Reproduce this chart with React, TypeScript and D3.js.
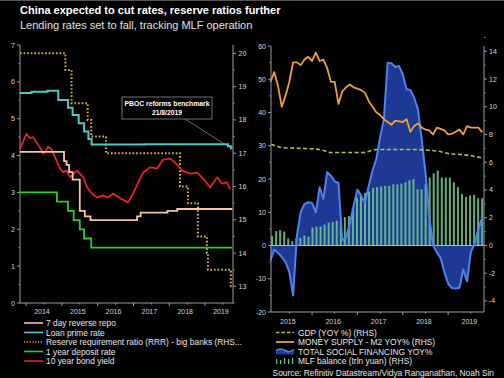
import React from "react";
import * as d3 from "d3";

const W = 504;
const H = 378;

// ---------- Left panel data ----------
const repoDates = [2013.83, 2015.06, 2015.13, 2015.2, 2015.3, 2015.5, 2015.64, 2015.8, 2017.1, 2017.2, 2017.95, 2018.22, 2019.76];
const repoVals = [4.1, 3.85, 3.75, 3.55, 3.35, 2.5, 2.35, 2.25, 2.35, 2.45, 2.5, 2.55, 2.55];

const lprDates = [2013.83, 2014.15, 2014.6, 2014.9, 2015.17, 2015.3, 2015.47, 2015.62, 2015.74, 2015.83, 2017.3, 2019.64, 2019.72, 2019.76];
const lprVals = [5.7, 5.73, 5.76, 5.51, 5.3, 5.1, 4.88, 4.65, 4.45, 4.3, 4.31, 4.25, 4.2, 4.2];

const rrrDates = [2013.83, 2015.1, 2015.27, 2015.72, 2015.82, 2016.23, 2018.3, 2018.52, 2018.8, 2019.05, 2019.08, 2019.72, 2019.76];
const rrrVals = [20, 19.5, 18.5, 18.0, 17.5, 17.0, 16.0, 15.5, 14.5, 14.0, 13.5, 13.0, 13.0];

const depDates = [2013.83, 2014.86, 2015.17, 2015.33, 2015.5, 2015.62, 2015.82, 2019.76];
const depVals = [3.0, 2.75, 2.5, 2.25, 2.0, 1.75, 1.5, 1.5];

const bondDates = [2013.83, 2013.97, 2014.01, 2014.1, 2014.2, 2014.29, 2014.38, 2014.48, 2014.57, 2014.61, 2014.71, 2014.75, 2014.85, 2014.95, 2015.04, 2015.13, 2015.23, 2015.32, 2015.42, 2015.51, 2015.6, 2015.7, 2015.84, 2015.98, 2016.15, 2016.29, 2016.43, 2016.63, 2016.85, 2016.99, 2017.1, 2017.27, 2017.46, 2017.66, 2017.83, 2018.02, 2018.16, 2018.36, 2018.58, 2018.78, 2018.94, 2019.14, 2019.34, 2019.47, 2019.61, 2019.7];
const bondVals = [4.18, 4.5, 4.59, 4.48, 4.5, 4.36, 4.23, 4.05, 4.14, 4.24, 4.18, 4.09, 3.86, 3.64, 3.55, 3.59, 3.41, 3.5, 3.59, 3.5, 3.41, 3.14, 2.97, 2.86, 2.92, 2.86, 2.97, 2.84, 2.73, 2.97, 3.2, 3.54, 3.68, 3.65, 3.89, 3.92, 3.81, 3.59, 3.51, 3.54, 3.38, 3.14, 3.41, 3.24, 3.27, 3.08];

const leftTicks = [0, 1, 2, 3, 4, 5, 6, 7];
const leftRightTicks = [13, 14, 15, 16, 17, 18, 19, 20];
const leftYears = [2014, 2015, 2016, 2017, 2018, 2019];

// ---------- Right panel data ----------
const monthlyStart = 2015; // Jan 2015, month-end stamps
const m2Vals = [11.8, 12.5, 11.5, 10.0, 10.8, 11.8, 13.2, 13.2, 13.0, 13.4, 13.6, 13.3, 13.9, 13.3, 13.4, 12.8, 11.8, 11.8, 10.2, 11.1, 11.4, 11.6, 11.4, 11.3, 11.2, 11.0, 10.4, 10.0, 9.6, 9.4, 9.1, 8.9, 8.7, 9.0, 8.95, 8.9, 9.1, 8.2, 8.6, 8.8, 8.5, 8.35, 8.3, 8.0, 8.5, 8.4, 8.3, 8.0, 8.05, 8.2, 8.35, 8.0, 8.6, 8.5, 8.5, 8.5, 8.15];
const tsfVals = [-4.5, -1.3, -2.2, -3.5, -5.0, -8.0, -15.0, 3.0, 10.0, 12.5, 13.0, 12.8, 10.0, 17.5, 14.0, 22.0, 21.0, 19.3, 18.8, 1.5, 2.5, 6.5, 12.0, 16.8, 15.0, 12.8, 18.0, 22.5, 26.0, 32.5, 38.0, 55.0, 54.8, 53.7, 54.0, 51.5, 47.0, 46.8, 44.5, 41.0, 32.0, 22.0, 9.0, 0.0, -2.0, -3.8, -8.0, -11.5, -12.8, -12.9, -12.7, -7.2, -10.8, -2.0, 0.5, 5.0, 8.4];

const gdpDates = [2015.1, 2015.36, 2015.74, 2016.18, 2016.4, 2017.13, 2017.43, 2018.16, 2018.76, 2019.05, 2019.27, 2019.71, 2019.77];
const gdpVals = [7.3, 7.05, 7.0, 6.92, 6.7, 6.7, 6.92, 6.92, 6.8, 6.6, 6.56, 6.34, 6.3];

const mlfStart = 2015.12;
const mlfEnd = 2019.75;
const mlfVals = [0.67, 1.03, 1.1, 1.0, 0.5, 0.3, 0.5, 0.55, 0.72, 0.63, 1.27, 1.35, 1.37, 1.5, 1.65, 1.7, 1.78, 1.7, 2.05, 2.12, 2.75, 3.45, 3.6, 3.8, 3.9, 4.15, 4.2, 4.25, 4.3, 4.3, 4.4, 4.4, 4.45, 4.55, 4.7, 4.8, 4.05, 4.05, 4.4, 4.9, 5.2, 5.4, 4.9, 4.9, 4.9, 4.55, 4.2, 3.7, 3.5, 3.6, 3.65, 3.4, 3.4];

const rightLeftTicks = [-20, -10, 0, 10, 20, 30, 40, 50, 60];
const rightRightTicks = [-4, -2, 0, 2, 4, 6, 8, 10, 12, 14];
const rightYears = [2015, 2016, 2017, 2018, 2019];

const leftLegend = [
  "7 day reverse repo",
  "Loan prime rate",
  "Reserve requirement ratio (RRR) - big banks (RHS...",
  "1 year deposit rate",
  "10 year bond yield",
];
const rightLegend = [
  "GDP (YOY %) (RHS)",
  "MONEY SUPPLY - M2 YOY% (RHS)",
  "TOTAL SOCIAL FINANCING YOY%",
  "MLF balance (trln yuan) (RHS)",
];

const C = {
  repo: "#f4c6a4",
  lpr: "#4fc8c8",
  rrr: "#d8b452",
  dep: "#27d02c",
  bond: "#e8202a",
  gdp: "#a8c43c",
  m2: "#f0a030",
  tsfLine: "#4f80f0",
  tsfFill: "#203c9c",
  mlf: "#6cc68c",
  axis: "#9a9a9a",
  text: "#d6d6d6",
};

const FONT = "Arial, 'Liberation Sans', Helvetica, sans-serif";

export default function App() {
  const xL = d3.scaleLinear().domain([2013.83, 2019.78]).range([20, 233]);
  const yL = d3.scaleLinear().domain([0, 7]).range([303, 45]);
  const yLR = d3.scaleLinear().domain([12.5, 20.25]).range([303, 45]);

  const xR = d3.scaleLinear().domain([2015.096, 2019.79]).range([271, 484]);
  const yRL = d3.scaleLinear().domain([-20, 60]).range([312, 46]);
  const yRR = d3.scaleLinear().domain([-4.8, 14.38]).range([312, 46]);

  const stepLine = (dates: number[], vals: number[], y: d3.ScaleLinear<number, number>) =>
    d3
      .line<number>()
      .x((_, i) => xL(dates[i]))
      .y((v) => y(v))
      .curve(d3.curveStepAfter)(vals) || "";

  const bondPath =
    d3
      .line<number>()
      .x((_, i) => xL(bondDates[i]))
      .y((v) => yL(v))(bondVals) || "";

  const mDate = (i: number) => monthlyStart + (i + 1) / 12;

  const m2Path =
    d3
      .line<number>()
      .x((_, i) => xR(mDate(i)))
      .y((v) => yRR(v))(m2Vals) || "";

  const tsfArea =
    d3
      .area<number>()
      .x((_, i) => xR(mDate(i)))
      .y0(yRL(0))
      .y1((v) => yRL(v))(tsfVals) || "";
  const tsfLine =
    d3
      .line<number>()
      .x((_, i) => xR(mDate(i)))
      .y((v) => yRL(v))(tsfVals) || "";

  const gdpPath =
    d3
      .line<number>()
      .x((_, i) => xR(gdpDates[i]))
      .y((v) => yRR(v))
      .curve(d3.curveMonotoneX)(gdpVals) || "";

  const mlfX = d3.scaleLinear().domain([0, mlfVals.length - 1]).range([xR(mlfStart), xR(mlfEnd)]);

  const fs = 7;

  // annotation target
  const annX = xL(2019.64);
  const annY = yL(4.25);

  return (
    <svg
      width={W}
      height={H}
      viewBox={`0 0 ${W} ${H}`}
      style={{ position: "absolute", left: 0, top: 0, background: "#000", fontFamily: FONT }}
    >
      <rect x={0} y={0} width={W} height={H} fill="#000" />
      <line x1={0} x2={W} y1={0.5} y2={0.5} stroke="#555" />

      {/* Titles */}
      <text x={20} y={14} fill="#fff" fontSize={11} fontWeight="bold">
        China expected to cut rates, reserve ratios further
      </text>
      <text x={20} y={28.5} fill="#e2e2e2" fontSize={11}>
        Lending rates set to fall, tracking MLF operation
      </text>

      {/* ---------- LEFT PANEL ---------- */}
      <g>
        {/* axes */}
        <line x1={20} x2={20} y1={45} y2={303} stroke={C.axis} />
        <line x1={233} x2={233} y1={45} y2={303} stroke={C.axis} />
        <line x1={20} x2={233} y1={303} y2={303} stroke={C.axis} />
        {leftTicks.map((t) => (
          <g key={"lt" + t}>
            <line x1={17} x2={20} y1={yL(t)} y2={yL(t)} stroke={C.axis} />
            <text x={15} y={yL(t) + 2.5} fill={C.text} fontSize={fs} textAnchor="end">
              {t}
            </text>
          </g>
        ))}
        {leftTicks.slice(0, -1).map((t) => (
          <line key={"ltm" + t} x1={18.5} x2={20} y1={yL(t + 0.5)} y2={yL(t + 0.5)} stroke={C.axis} />
        ))}
        {leftRightTicks.map((t) => (
          <g key={"lrt" + t}>
            <line x1={233} x2={236} y1={yLR(t)} y2={yLR(t)} stroke={C.axis} />
            <text x={238.5} y={yLR(t) + 2.5} fill={C.text} fontSize={fs}>
              {t}
            </text>
          </g>
        ))}
        {[12.5, 13.5, 14.5, 15.5, 16.5, 17.5, 18.5, 19.5].map((t) => (
          <line key={"lrtm" + t} x1={233} x2={234.5} y1={yLR(t)} y2={yLR(t)} stroke={C.axis} />
        ))}
        {leftYears.map((yr) => (
          <g key={"ly" + yr}>
            <line x1={xL(yr)} x2={xL(yr)} y1={303} y2={306} stroke={C.axis} />
            <line x1={xL(yr + 0.5)} x2={xL(yr + 0.5)} y1={303} y2={304.5} stroke={C.axis} />
            <text x={xL(yr + 0.5) - 2} y={314} fill={C.text} fontSize={fs} textAnchor="middle">
              {yr}
            </text>
          </g>
        ))}

        {/* series */}
        <path d={stepLine(rrrDates, rrrVals, yLR)} fill="none" stroke={C.rrr} strokeWidth={2} strokeDasharray="1.6,2" />
        <path d={stepLine(depDates, depVals, yL)} fill="none" stroke={C.dep} strokeWidth={1.8} />
        <path d={bondPath} fill="none" stroke={C.bond} strokeWidth={1.8} strokeLinejoin="round" />
        <path d={stepLine(repoDates, repoVals, yL)} fill="none" stroke={C.repo} strokeWidth={1.8} />
        <path d={stepLine(lprDates, lprVals, yL)} fill="none" stroke={C.lpr} strokeWidth={2} />

        {/* annotation */}
        <line x1={185} y1={119} x2={annX} y2={annY} stroke="#9a9a9a" strokeWidth={0.7} />
        <rect x={122} y={97} width={90} height={22} fill="#000" stroke="#8a8a8a" strokeWidth={0.8} />
        <text x={167} y={105.5} fill="#fff" fontSize={6.8} fontWeight="bold" textAnchor="middle">
          PBOC reforms benchmark
        </text>
        <text x={167} y={115} fill="#fff" fontSize={6.8} fontWeight="bold" textAnchor="middle">
          21/8/2019
        </text>
      </g>

      {/* ---------- RIGHT PANEL ---------- */}
      <g>
        <path d={tsfArea} fill={C.tsfFill} opacity={0.95} />
        {mlfVals.map((v, i) => (
          <rect
            key={"mlf" + i}
            x={mlfX(i) - 1}
            y={yRR(v)}
            width={2}
            height={yRR(0) - yRR(v)}
            fill={C.mlf}
            opacity={0.88}
          />
        ))}
        <line x1={271} x2={484} y1={yRL(0)} y2={yRL(0)} stroke="#d8d8d8" strokeWidth={0.8} />
        <path d={tsfLine} fill="none" stroke={C.tsfLine} strokeWidth={2} strokeLinejoin="round" />
        <path d={gdpPath} fill="none" stroke={C.gdp} strokeWidth={1.6} strokeDasharray="4,2.5" />
        <path d={m2Path} fill="none" stroke={C.m2} strokeWidth={1.8} strokeLinejoin="round" />

        {/* axes */}
        <line x1={271} x2={271} y1={46} y2={312} stroke={C.axis} />
        <line x1={484} x2={484} y1={46} y2={312} stroke={C.axis} />
        <line x1={271} x2={484} y1={312} y2={312} stroke={C.axis} />
        {rightLeftTicks.map((t) => (
          <g key={"rl" + t}>
            <line x1={268} x2={271} y1={yRL(t)} y2={yRL(t)} stroke={C.axis} />
            <text x={266} y={yRL(t) + 2.5} fill={C.text} fontSize={fs} textAnchor="end">
              {t}
            </text>
          </g>
        ))}
        {rightLeftTicks.slice(0, -1).map((t) => (
          <line key={"rlm" + t} x1={269.5} x2={271} y1={yRL(t + 5)} y2={yRL(t + 5)} stroke={C.axis} />
        ))}
        {rightRightTicks.map((t) => (
          <g key={"rr" + t}>
            <line x1={484} x2={487} y1={yRR(t)} y2={yRR(t)} stroke={C.axis} />
            <text x={489} y={yRR(t) + 2.5} fill={C.text} fontSize={fs}>
              {t}
            </text>
          </g>
        ))}
        {rightRightTicks.map((t) => (
          <line key={"rrm" + t} x1={484} x2={485.5} y1={yRR(t + 1)} y2={yRR(t + 1)} stroke={C.axis} />
        ))}
        {rightYears.map((yr) => (
          <g key={"ry" + yr}>
            {xR(yr) >= 271 && <line x1={xR(yr)} x2={xR(yr)} y1={312} y2={315} stroke={C.axis} />}
            <line x1={xR(yr + 0.5)} x2={xR(yr + 0.5)} y1={312} y2={313.5} stroke={C.axis} />
            <text x={xR(yr + 0.5) - 1.5} y={323.5} fill={C.text} fontSize={fs} textAnchor="middle">
              {yr}
            </text>
          </g>
        ))}
      </g>

      {/* ---------- LEGENDS ---------- */}
      <g fontSize={8.4} fill="#e6e6e6">
        {leftLegend.map((label, i) => {
          const y = 323 + i * 9.5;
          const colors = [C.repo, C.lpr, C.rrr, C.dep, C.bond];
          return (
            <g key={"ll" + i}>
              <line
                x1={24}
                x2={43}
                y1={y}
                y2={y}
                stroke={colors[i]}
                strokeWidth={i === 2 ? 1.6 : 1.6}
                strokeDasharray={i === 2 ? "1.2,1.6" : undefined}
              />
              <text x={46} y={y + 3}>
                {label}
              </text>
            </g>
          );
        })}
        {rightLegend.map((label, i) => {
          const y = 332.5 + i * 9.5;
          return (
            <g key={"rl" + i}>
              {i === 0 && <line x1={276} x2={294} y1={y} y2={y} stroke={C.gdp} strokeWidth={1.5} strokeDasharray="3.5,2" />}
              {i === 1 && <line x1={276} x2={294} y1={y} y2={y} stroke={C.m2} strokeWidth={1.8} />}
              {i === 2 && (
                <g>
                  <path d={`M276,${y - 1} Q281,${y - 4} 285,${y - 1} T294,${y - 2} L294,${y + 3} L276,${y + 3} Z`} fill={C.tsfFill} />
                  <path d={`M276,${y - 1} Q281,${y - 4} 285,${y - 1} T294,${y - 2}`} fill="none" stroke={C.tsfLine} strokeWidth={1.6} />
                </g>
              )}
              {i === 3 && (
                <g fill={C.mlf}>
                  <rect x={276} y={y - 2} width={1.2} height={5} />
                  <rect x={280} y={y - 1} width={1.2} height={4} />
                  <rect x={284} y={y - 3} width={1.2} height={6} />
                  <rect x={288} y={y - 2} width={1.2} height={5} />
                  <rect x={292} y={y - 3} width={1.2} height={6} />
                </g>
              )}
              <text x={298} y={y + 3}>
                {label}
              </text>
            </g>
          );
        })}
        <text x={494} y={376} textAnchor="end">
          Source: Refinitiv Datastream/Vidya Ranganathan, Noah Sin
        </text>
      </g>
    </svg>
  );
}
